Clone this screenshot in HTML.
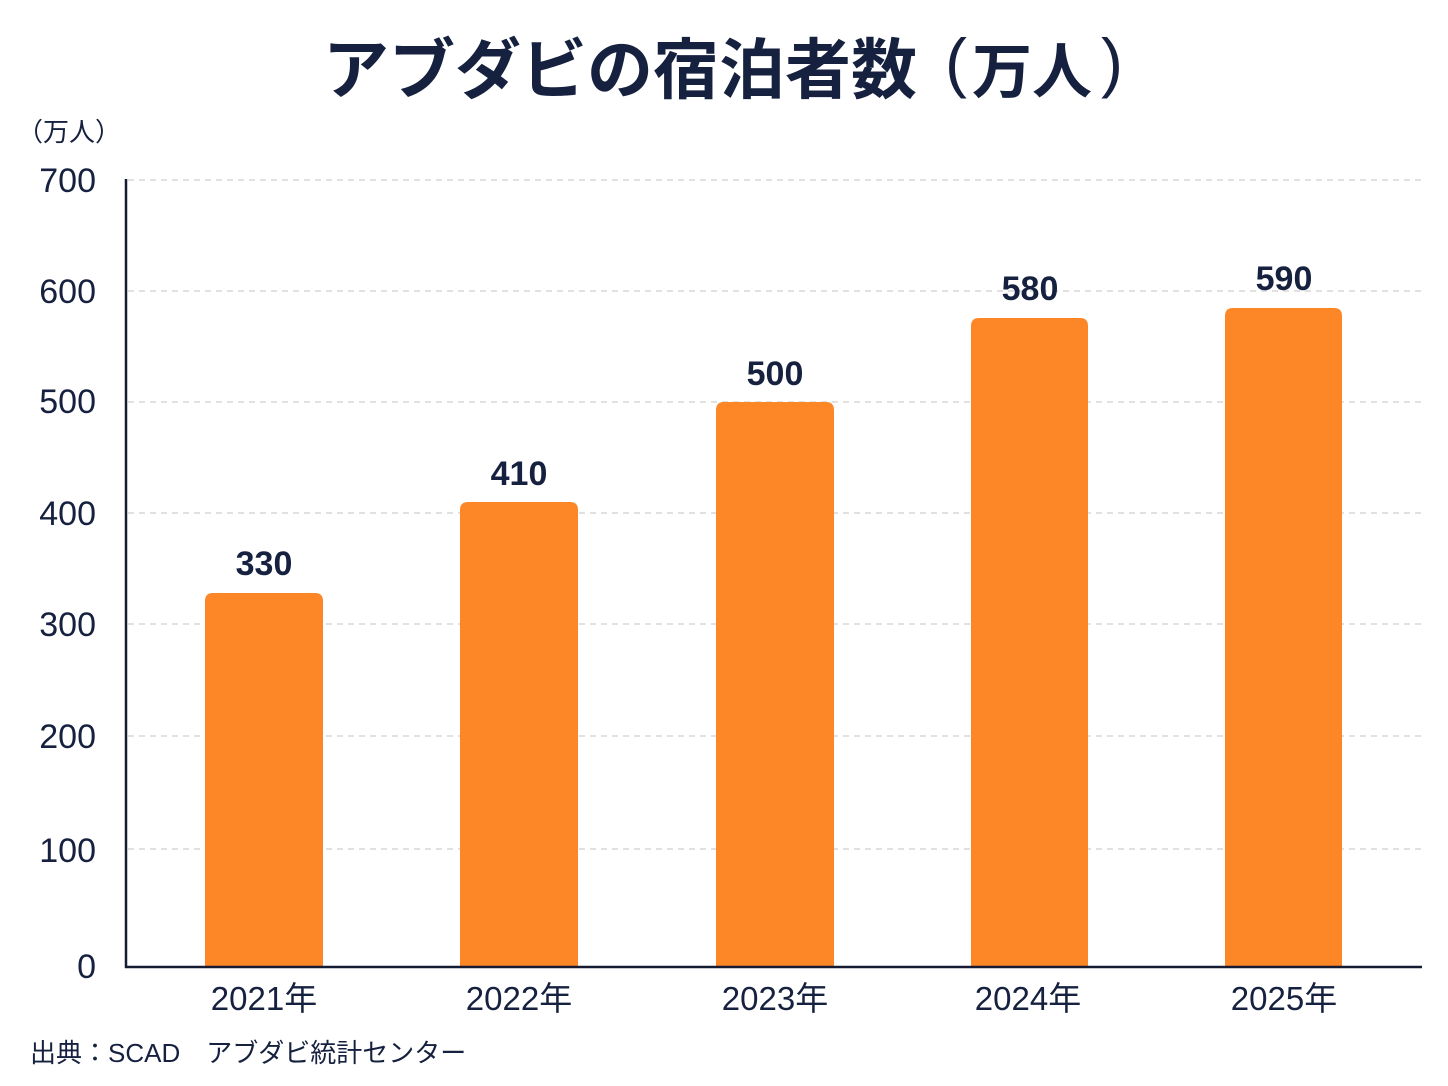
<!DOCTYPE html>
<html>
<head>
<meta charset="utf-8">
<style>
html,body{margin:0;padding:0;background:#ffffff;}
svg{display:block;}
text{fill:#16213f;}
.lat{font-family:"Liberation Sans","Noto Sans CJK JP",sans-serif;}
.cjk{font-family:"Noto Sans CJK JP","Liberation Sans",sans-serif;}
</style>
</head>
<body>
<svg width="1448" height="1086" viewBox="0 0 1448 1086" xmlns="http://www.w3.org/2000/svg">
  <rect x="0" y="0" width="1448" height="1086" fill="#ffffff"/>

  <!-- Title -->
  <text class="cjk" x="323" y="93" font-size="66" font-weight="700">アブダビの宿泊者数</text>
  <text class="lat" x="945" y="85" font-size="66" font-weight="400">(</text>
  <text class="cjk" x="972" y="93" font-size="60" font-weight="700">万人</text>
  <text class="lat" x="1101" y="85" font-size="66" font-weight="400">)</text>

  <!-- unit label -->
  <text class="cjk" x="17" y="141" font-size="26" font-weight="400">（万人）</text>

  <!-- gridlines -->
  <g stroke="#cfcfcf" stroke-width="1.3" stroke-dasharray="6 5" fill="none">
    <line x1="128" y1="180" x2="1421" y2="180"/>
    <line x1="128" y1="291" x2="1421" y2="291"/>
    <line x1="128" y1="402" x2="1421" y2="402"/>
    <line x1="128" y1="513" x2="1421" y2="513"/>
    <line x1="128" y1="624" x2="1421" y2="624"/>
    <line x1="128" y1="736" x2="1421" y2="736"/>
    <line x1="128" y1="849" x2="1421" y2="849"/>
  </g>

  <!-- y tick labels -->
  <g class="lat" font-size="34" text-anchor="end">
    <text x="96" y="192">700</text>
    <text x="96" y="303">600</text>
    <text x="96" y="413">500</text>
    <text x="96" y="525">400</text>
    <text x="96" y="636">300</text>
    <text x="96" y="748">200</text>
    <text x="96" y="862">100</text>
    <text x="96" y="978">0</text>
  </g>

  <!-- bars -->
  <g fill="#fd8627">
    <path d="M205,966 L205,601 Q205,593 213,593 L315,593 Q323,593 323,601 L323,966 Z"/>
    <path d="M460,966 L460,510 Q460,502 468,502 L570,502 Q578,502 578,510 L578,966 Z"/>
    <path d="M716,966 L716,410 Q716,402 724,402 L826,402 Q834,402 834,410 L834,966 Z"/>
    <path d="M971,966 L971,326 Q971,318 979,318 L1080,318 Q1088,318 1088,326 L1088,966 Z"/>
    <path d="M1225,966 L1225,316 Q1225,308 1233,308 L1334,308 Q1342,308 1342,316 L1342,966 Z"/>
  </g>

  <!-- axes -->
  <line x1="126" y1="179" x2="126" y2="968" stroke="#141b33" stroke-width="2.5"/>
  <line x1="125" y1="967" x2="1422" y2="967" stroke="#141b33" stroke-width="2.5"/>

  <!-- value labels -->
  <g class="lat" font-size="34" font-weight="700" text-anchor="middle">
    <text x="264" y="575">330</text>
    <text x="519" y="485">410</text>
    <text x="775" y="385">500</text>
    <text x="1030" y="300">580</text>
    <text x="1284" y="290">590</text>
  </g>

  <!-- x labels -->
  <g class="lat" font-size="33" text-anchor="middle">
    <text x="264" y="1010">2021年</text>
    <text x="519" y="1010">2022年</text>
    <text x="775" y="1010">2023年</text>
    <text x="1028" y="1010">2024年</text>
    <text x="1284" y="1010">2025年</text>
  </g>

  <!-- source -->
  <text class="lat" x="30" y="1062" font-size="26">出典：SCAD　アブダビ統計センター</text>
</svg>
</body>
</html>
